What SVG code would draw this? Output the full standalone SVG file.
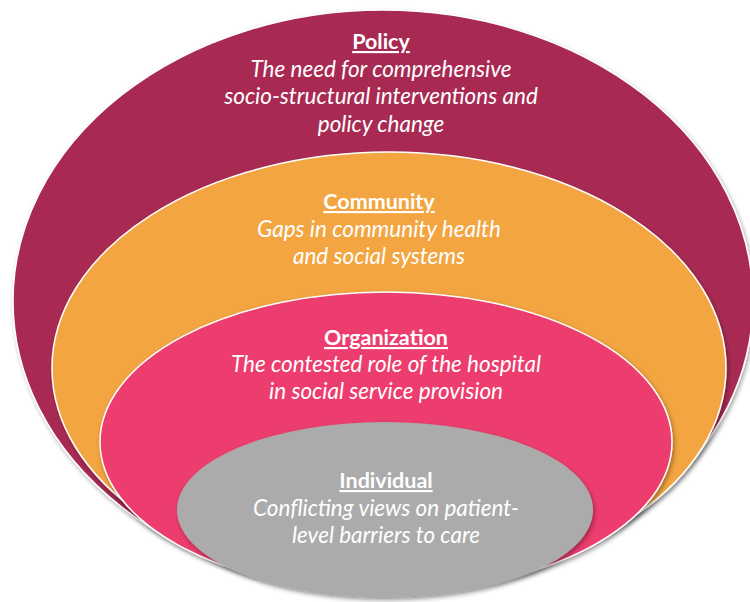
<svg xmlns="http://www.w3.org/2000/svg" width="750" height="602" viewBox="0 0 750 602">
<defs>
<filter id="sh" x="-10%" y="-10%" width="120%" height="120%">
<feDropShadow dx="1.5" dy="2.5" stdDeviation="2" flood-color="#000" flood-opacity="0.35"/>
</filter>
</defs>
<style>
.ring{stroke:#ffffff;stroke-width:1.5;filter:url(#sh)}
.t{font-family:Lato,"Open Sans","Liberation Sans",sans-serif;fill:#ffffff;text-anchor:middle}
.h{font-weight:bold;text-decoration:underline;font-size:21.5px}
.d{font-style:italic;font-size:22.5px}
</style>
<rect width="750" height="602" fill="#ffffff"/>
<g id="policy">
<ellipse class="ring" cx="383" cy="301" rx="370" ry="291" fill="#A82C52"/>
<text class="t h" x="381" y="49">Policy</text>
<text class="t d" x="381" y="77">The need for comprehensive</text>
<text class="t d" x="381" y="104">socio-structural interventions and</text>
<text class="t d" x="381" y="132">policy change</text>
</g>
<g id="community">
<ellipse class="ring" cx="389" cy="368" rx="337" ry="216" fill="#F2A541"/>
<text class="t h" x="379" y="209">Community</text>
<text class="t d" x="379" y="237">Gaps in community health</text>
<text class="t d" x="379" y="264">and social systems</text>
</g>
<g id="organization">
<ellipse class="ring" cx="386" cy="442" rx="286" ry="150" fill="#EC3E6E"/>
<text class="t h" x="386" y="345">Organization</text>
<text class="t d" x="386" y="372">The contested role of the hospital</text>
<text class="t d" x="386" y="399">in social service provision</text>
</g>
<g id="individual">
<ellipse class="ring" cx="385" cy="510" rx="208" ry="88" fill="#ABABAB" style="stroke:none"/>
<text class="t h" x="386" y="488">Individual</text>
<text class="t d" x="386" y="516">Conflicting views on patient-</text>
<text class="t d" x="386" y="543">level barriers to care</text>
</g>
<g id="connectors"/>
</svg>
